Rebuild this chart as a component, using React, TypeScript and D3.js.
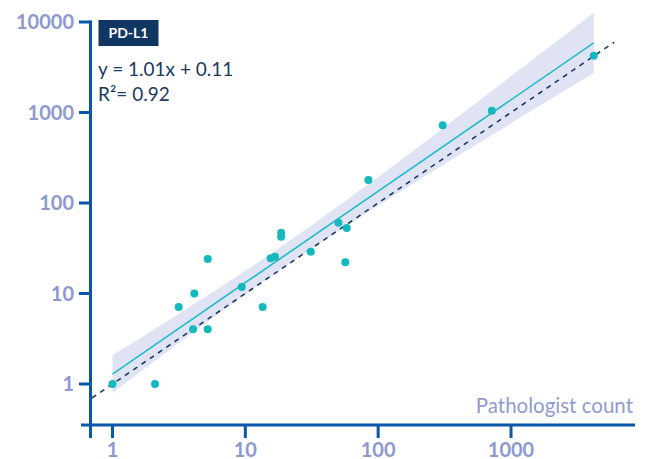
import React, { useEffect, useRef } from 'react';
import * as d3 from 'd3';

// scatter points: pathologist count (x) vs. algorithm count (y)
const pathologist = [1, 2.09, 3.15, 4.13, 4.04, 5.21, 5.21, 9.4, 13.5, 15.5, 16.7, 18.6, 18.6, 31.1, 50.2, 58, 56.6, 84.4, 306, 717, 4200];
const algorithm = [1, 1, 7.1, 10, 4.02, 4.02, 24, 11.8, 7.1, 24.5, 25.5, 47, 42.4, 29, 60.6, 53, 22.1, 179, 722, 1047, 4245];

// confidence band
const bandX = [1, 3.16, 10, 31.6, 100, 316, 1000, 4200];
const bandLow = [0.8, 2.84, 9.75, 31.3, 93.5, 269, 759, 2729];
const bandHigh = [2.08, 5.98, 17.8, 56.9, 194, 692, 2512, 12650];

const slope = 1.01;
const intercept = 0.11;
const fitRange = [1, 4200];
const identityRange = [0.7, 5970];

const xTicks = [1, 10, 100, 1000];
const yTicks = [1, 10, 100, 1000, 10000];

const App = () => {
  const svgRef = useRef<SVGSVGElement>(null);
  const width = 645;
  const height = 459;

  useEffect(() => {
    const svg = d3.select(svgRef.current);
    svg.selectAll('*').remove();

    const axisColor = '#0a56a8';
    const tickColor = '#8d99cf';
    const navy = '#1b3a5e';

    const x = d3.scaleLog().domain([1, 1000]).range([112.5, 511]);
    const y = d3.scaleLog().domain([1, 10000]).range([384, 22]);

    // band
    const area = d3.area<number>()
      .x((_, i) => x(bandX[i]))
      .y0((_, i) => y(bandLow[i]))
      .y1((_, i) => y(bandHigh[i]))
      .curve(d3.curveMonotoneX);
    svg.append('path')
      .attr('d', area(bandX))
      .attr('fill', '#e0e3f4');

    // identity line
    svg.append('line')
      .attr('x1', x(identityRange[0]))
      .attr('y1', y(identityRange[0]))
      .attr('x2', x(identityRange[1]))
      .attr('y2', y(identityRange[1]))
      .attr('stroke', '#1f3a60')
      .attr('stroke-width', 1.6)
      .attr('stroke-dasharray', '5,5');

    // fit line
    const fit = (v: number) => Math.pow(10, slope * Math.log10(v) + intercept);
    svg.append('line')
      .attr('x1', x(fitRange[0]))
      .attr('y1', y(fit(fitRange[0])))
      .attr('x2', x(fitRange[1]))
      .attr('y2', y(fit(fitRange[1])))
      .attr('stroke', '#22bcc4')
      .attr('stroke-width', 1.6);

    // points
    svg.selectAll('circle.pt')
      .data(pathologist)
      .enter()
      .append('circle')
      .attr('class', 'pt')
      .attr('cx', d => x(d))
      .attr('cy', (_, i) => y(algorithm[i]))
      .attr('r', 4)
      .attr('fill', '#13b9bd');

    // axes
    const axisY = 425;
    const axisX = 90.5;
    svg.append('line')
      .attr('x1', 81).attr('x2', 635)
      .attr('y1', axisY).attr('y2', axisY)
      .attr('stroke', axisColor).attr('stroke-width', 3);
    svg.append('line')
      .attr('x1', axisX).attr('x2', axisX)
      .attr('y1', 20.5).attr('y2', 438)
      .attr('stroke', axisColor).attr('stroke-width', 3);

    xTicks.forEach(t => {
      svg.append('line')
        .attr('x1', x(t)).attr('x2', x(t))
        .attr('y1', axisY).attr('y2', 438)
        .attr('stroke', axisColor).attr('stroke-width', 3);
      svg.append('text')
        .attr('x', x(t))
        .attr('y', 457)
        .attr('text-anchor', 'middle')
        .attr('fill', tickColor)
        .attr('font-family', 'Lato')
        .attr('font-weight', 'bold')
        .attr('font-size', 20)
        .text(String(t));
    });

    yTicks.forEach(t => {
      svg.append('line')
        .attr('x1', 79).attr('x2', axisX)
        .attr('y1', y(t)).attr('y2', y(t))
        .attr('stroke', axisColor).attr('stroke-width', 3);
      svg.append('text')
        .attr('x', 74)
        .attr('y', y(t) + 7)
        .attr('text-anchor', 'end')
        .attr('fill', tickColor)
        .attr('font-family', 'Lato')
        .attr('font-weight', 'bold')
        .attr('font-size', 20)
        .text(String(t));
    });

    svg.append('text')
      .attr('x', 633)
      .attr('y', 413)
      .attr('text-anchor', 'end')
      .attr('fill', '#8f9bd0')
      .attr('font-family', 'Lato')
      .attr('font-size', 20.5)
      .text('Pathologist count');

    // label box
    svg.append('rect')
      .attr('x', 98.5).attr('y', 20)
      .attr('width', 60).attr('height', 26)
      .attr('fill', '#0f3762');
    svg.append('text')
      .attr('x', 128.5).attr('y', 38)
      .attr('text-anchor', 'middle')
      .attr('fill', '#ffffff')
      .attr('font-family', 'Lato')
      .attr('font-weight', 'bold')
      .attr('font-size', 14)
      .text('PD-L1');

    svg.append('text')
      .attr('x', 98).attr('y', 76)
      .attr('fill', navy)
      .attr('font-family', 'Lato')
      .attr('font-size', 19)
      .text(`y = ${slope.toFixed(2)}x + ${intercept.toFixed(2)}`);
    svg.append('text')
      .attr('x', 98).attr('y', 100.5)
      .attr('fill', navy)
      .attr('font-family', 'Lato')
      .attr('font-size', 19)
      .text('R²= 0.92');
  }, []);

  return (
    <svg
      ref={svgRef}
      width={width}
      height={height}
      style={{ position: 'absolute', left: 0, top: 0, background: '#ffffff' }}
    ></svg>
  );
};

export default App;
